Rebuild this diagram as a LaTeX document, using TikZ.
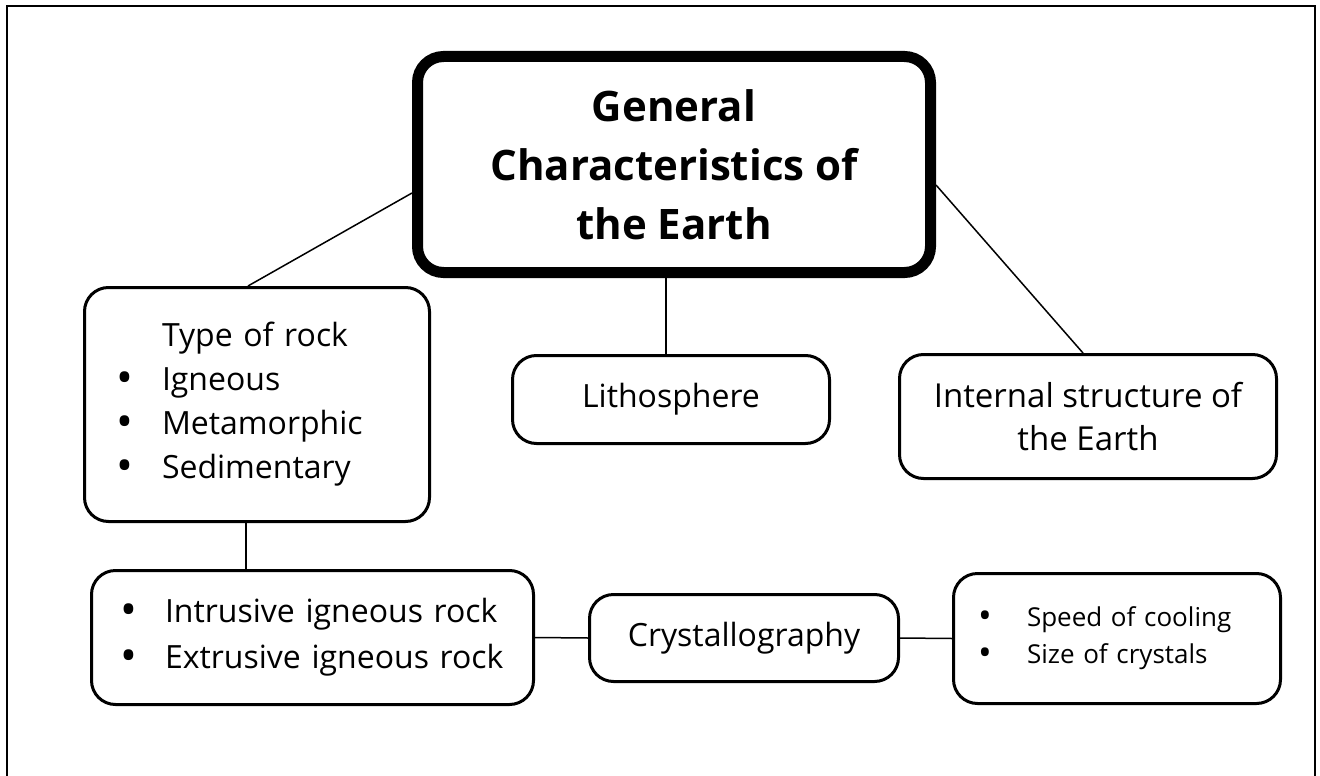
\documentclass[tikz,border=0pt]{standalone}
\usepackage{fontspec}
\setmainfont{Open Sans}
\usetikzlibrary{positioning, calc}
\tikzset{
  box/.style={draw=black, line width=3pt, rounded corners=24pt, inner sep=0pt, fill=white,
    font=\fontsize{32}{44}\selectfont},
  link/.style={draw=black, line width=1.5pt},
}
\newcommand{\bul}[1]{\makebox[#1][l]{\smash{\raisebox{-0.08em}{\scalebox{1.4}{\textbullet}}}}}

\begin{document}
\begin{tikzpicture}[x=1pt,y=-1pt]

    \useasboundingbox (0,0) rectangle (1320,776);

    % outer frame
    \draw[line width=2.5pt] (7,6) rectangle (1315,800);

    % main box
    \node[box, line width=11pt, rounded corners=26pt, minimum width=513pt, minimum height=216pt,
      align=center, font=\fontsize{42}{59}\selectfont\bfseries] (main) at (674,164.5)
      {General\\Characteristics of\\the Earth};

    % first level
    \node[box, minimum width=345pt, minimum height=234pt, text width=282pt, inner xsep=31.5pt,
      align=left] (rock) at (257,404.5)
      {\hspace*{46pt}Type of rock\\\bul{46pt}Igneous\\\bul{46pt}Metamorphic\\\bul{46pt}Sedimentary};
    \node[box, minimum width=317pt, minimum height=88pt, align=center] (litho) at (671,399.5) {Lithosphere};
    \node[box, minimum width=377pt, minimum height=124pt, align=center,
      font=\fontsize{33}{43}\selectfont] (inner) at (1088,416.5) {Internal structure of\\the Earth};

    % second level
    \node[box, minimum width=442pt, minimum height=134pt, text width=385pt, inner xsep=28.5pt,
      align=left, font=\fontsize{32}{46}\selectfont] (intr) at (312.5,637.5)
      {\bul{45pt}Intrusive igneous rock\\\bul{45pt}Extrusive igneous rock};
    \node[box, minimum width=309pt, minimum height=87pt] (cryst) at (744,638) {Crystallography};
    \node[box, minimum width=327pt, minimum height=130pt, text width=278pt, inner xsep=24.5pt,
      align=left, font=\fontsize{26}{37}\selectfont] (speed) at (1117,638.5)
      {\bul{49pt}Speed of cooling\\\bul{49pt}Size of crystals};

    % connectors
    \draw[link] ([yshift=-28.5pt]main.west) -- ([xshift=-9pt]rock.north);
    \draw[link] ([xshift=-5pt]litho.north) -- ([xshift=-5pt]litho.north |- main.south);
    \draw[link] ([yshift=-20.5pt]main.east) -- ([xshift=-5pt]inner.north);
    \draw[link] ([xshift=-11pt]rock.south) -- ([xshift=-11pt]rock.south |- intr.north);
    \draw[link] (intr.east) -- (cryst.west);
    \draw[link] (cryst.east) -- (speed.west);

\end{tikzpicture}
\end{document}
